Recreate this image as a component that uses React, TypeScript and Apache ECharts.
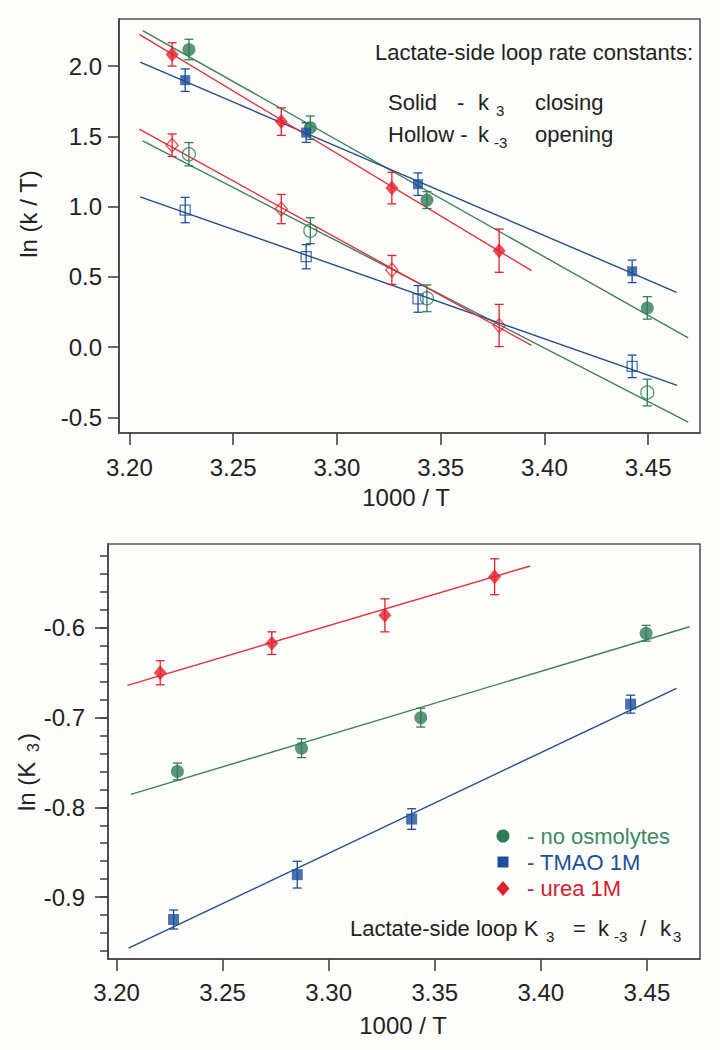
import React, { useEffect, useRef } from "react";
import * as echarts from "echarts";

// ---------- data ----------
const xGreen = [3.2287, 3.2872, 3.3434, 3.4496];
const xBlue = [3.2269, 3.2852, 3.3391, 3.4423];
const xRed = [3.2206, 3.2732, 3.3265, 3.3782];

// top panel: ln(k/T)
const k3Green = [2.118, 1.562, 1.047, 0.28];
const k3GreenErr = [0.073, 0.083, 0.06, 0.08];
const k3Blue = [1.9, 1.527, 1.16, 0.54];
const k3BlueErr = [0.08, 0.07, 0.08, 0.08];
const k3Red = [2.083, 1.605, 1.132, 0.687];
const k3RedErr = [0.083, 0.098, 0.112, 0.154];
const km3Green = [1.373, 0.829, 0.348, -0.322];
const km3GreenErr = [0.083, 0.092, 0.095, 0.095];
const km3Blue = [0.976, 0.644, 0.344, -0.136];
const km3BlueErr = [0.09, 0.086, 0.095, 0.08];
const km3Red = [1.437, 0.983, 0.55, 0.155];
const km3RedErr = [0.08, 0.104, 0.103, 0.15];

// fitted lines (end points)
const fitK3Green = [[3.2064, 2.253], [3.4693, 0.067]];
const fitK3Blue = [[3.2052, 2.028], [3.4637, 0.391]];
const fitK3Red = [[3.2048, 2.225], [3.3938, 0.545]];
const fitKm3Green = [[3.2064, 1.468], [3.4693, -0.532]];
const fitKm3Blue = [[3.2052, 1.07], [3.464, -0.271]];
const fitKm3Red = [[3.2048, 1.551], [3.3938, 0.013]];

// bottom panel: ln(K3)
const K3Green = [-0.76, -0.734, -0.7, -0.606];
const K3GreenErr = [0.0093, 0.0105, 0.0105, 0.0088];
const K3Blue = [-0.925, -0.875, -0.813, -0.685];
const K3BlueErr = [0.0106, 0.0149, 0.0115, 0.01];
const K3Red = [-0.65, -0.617, -0.586, -0.543];
const K3RedErr = [0.0134, 0.0126, 0.0184, 0.02];
const fitK3eqGreen = [[3.2068, -0.7855], [3.4701, -0.5987]];
const fitK3eqBlue = [[3.2057, -0.957], [3.4639, -0.6673]];
const fitK3eqRed = [[3.2052, -0.664], [3.395, -0.531]];

// ticks
const xTicks = [3.2, 3.25, 3.3, 3.35, 3.4, 3.45];
const yTicksTop = [-0.5, 0, 0.5, 1.0, 1.5, 2.0];
const yTicksBottom = [-0.9, -0.8, -0.7, -0.6];
const yMinorBottom = [-0.96, -0.94, -0.92, -0.9, -0.88, -0.86, -0.84, -0.82, -0.8, -0.78, -0.76, -0.74, -0.72, -0.7, -0.68, -0.66, -0.64, -0.62, -0.6, -0.58, -0.56, -0.54, -0.52];

const GREEN = "#2f7d57";
const BLUE = "#1b4f9c";
const RED = "#e3222f";
const GREEN_L = "#3f7f5f";
const BLUE_L = "#234d8a";
const RED_L = "#e0343c";
const FONT = "Liberation Sans";
const TXT = "#222";

const zip = (xs: number[], ys: number[]) => xs.map((x, i) => [x, ys[i]]);
const errData = (xs: number[], ys: number[], es: number[]) =>
  xs.map((x, i) => [x, ys[i] - es[i], ys[i] + es[i]]);

function errSeries(xs: number[], ys: number[], es: number[], color: string, axis: number, yAxis: number) {
  return {
    type: "custom",
    xAxisIndex: axis,
    yAxisIndex: yAxis,
    data: errData(xs, ys, es),
    encode: { x: 0, y: [1, 2] },
    z: 3,
    renderItem: (params: any, api: any) => {
      const x = api.value(0);
      const p1 = api.coord([x, api.value(1)]);
      const p2 = api.coord([x, api.value(2)]);
      const w = 4.5;
      const st = { stroke: color, lineWidth: 1.3 };
      return {
        type: "group",
        children: [
          { type: "line", shape: { x1: p1[0], y1: p1[1], x2: p2[0], y2: p2[1] }, style: st },
          { type: "line", shape: { x1: p1[0] - w, y1: p1[1], x2: p1[0] + w, y2: p1[1] }, style: st },
          { type: "line", shape: { x1: p2[0] - w, y1: p2[1], x2: p2[0] + w, y2: p2[1] }, style: st },
        ],
      };
    },
  };
}

function scatter(xs: number[], ys: number[], color: string, symbol: string, size: any, hollow: boolean, axis: number, yAxis: number) {
  return {
    type: "scatter",
    xAxisIndex: axis,
    yAxisIndex: yAxis,
    data: zip(xs, ys),
    symbol,
    symbolSize: size,
    z: 4,
    itemStyle: hollow
      ? { color: "rgba(255,255,255,0)", borderColor: color, borderWidth: 1.3 }
      : { color },
  };
}

function fitLine(pts: number[][], color: string, axis: number, yAxis: number) {
  return {
    type: "line",
    xAxisIndex: axis,
    yAxisIndex: yAxis,
    data: pts,
    showSymbol: false,
    symbol: "none",
    z: 2,
    lineStyle: { color, width: 1.4 },
  };
}

function txt(text: string, x: number, y: number, size: number, opts: any = {}) {
  return {
    type: "text",
    x,
    y,
    z: 10,
    style: {
      text,
      fill: opts.fill || TXT,
      fontSize: size,
      fontFamily: FONT,
      align: opts.align || "left",
      verticalAlign: "middle",
      textAlign: opts.align || "left",
      textVerticalAlign: "middle",
    },
  };
}

export default function App() {
  const ref = useRef<HTMLDivElement>(null);
  useEffect(() => {
    if (!ref.current) return;
    const chart = echarts.init(ref.current, null, { renderer: "svg" });
    const axisLineStyle = { color: "#444", width: 1.6 };
    const xAxisCommon = (gridIndex: number, min: number, margin: number) => ({
      type: "value",
      gridIndex,
      min,
      max: 3.475,
      position: "bottom",
      axisLine: { show: true, onZero: false, lineStyle: axisLineStyle },
      axisTick: { show: true, inside: false, length: 12, customValues: xTicks, lineStyle: axisLineStyle },
      axisLabel: {
        customValues: xTicks,
        formatter: (v: number) => v.toFixed(2),
        fontSize: 24,
        fontFamily: FONT,
        color: TXT,
        margin,
      },
      splitLine: { show: false },
    });

    const option: any = {
      animation: false,
      backgroundColor: "#fdfdfb",
      grid: [
        { left: 119, top: 19, width: 581, height: 414, show: true, borderColor: "#555", borderWidth: 1.6, backgroundColor: "transparent" },
        { left: 108, top: 544, width: 592, height: 415, show: true, borderColor: "#555", borderWidth: 1.6, backgroundColor: "transparent" },
      ],
      xAxis: [xAxisCommon(0, 3.195, 22), xAxisCommon(1, 3.196, 21)],
      yAxis: [
        {
          type: "value",
          gridIndex: 0,
          position: "left",
          min: -0.61,
          max: 2.335,
          axisLine: { show: true, onZero: false, lineStyle: axisLineStyle },
          axisTick: { show: true, length: 11, customValues: yTicksTop, lineStyle: axisLineStyle },
          axisLabel: {
            customValues: yTicksTop,
            formatter: (v: number) => v.toFixed(1),
            fontSize: 24,
            fontFamily: FONT,
            color: TXT,
            margin: 17,
          },
          splitLine: { show: false },
        },
        {
          type: "value",
          gridIndex: 1,
          position: "left",
          min: -0.969,
          max: -0.5065,
          axisLine: { show: true, onZero: false, lineStyle: axisLineStyle },
          axisTick: { show: true, length: 13, customValues: yTicksBottom, lineStyle: axisLineStyle },
          axisLabel: {
            customValues: yTicksBottom,
            formatter: (v: number) => v.toFixed(1),
            fontSize: 24,
            fontFamily: FONT,
            color: TXT,
            margin: 23,
          },
          splitLine: { show: false },
        },
        {
          type: "value",
          gridIndex: 1,
          position: "left",
          offset: 0,
          min: -0.969,
          max: -0.5065,
          axisLine: { show: false, onZero: false },
          axisTick: { show: true, length: 8, customValues: yMinorBottom, lineStyle: axisLineStyle },
          axisLabel: { show: false },
          splitLine: { show: false },
        },
      ],
      series: [
        // top panel lines
        fitLine(fitK3Green, GREEN_L, 0, 0),
        fitLine(fitK3Blue, BLUE_L, 0, 0),
        fitLine(fitK3Red, RED_L, 0, 0),
        fitLine(fitKm3Green, GREEN_L, 0, 0),
        fitLine(fitKm3Blue, BLUE_L, 0, 0),
        fitLine(fitKm3Red, RED_L, 0, 0),
        // error bars
        errSeries(xGreen, k3Green, k3GreenErr, GREEN, 0, 0),
        errSeries(xBlue, k3Blue, k3BlueErr, BLUE, 0, 0),
        errSeries(xRed, k3Red, k3RedErr, RED, 0, 0),
        errSeries(xGreen, km3Green, km3GreenErr, GREEN, 0, 0),
        errSeries(xBlue, km3Blue, km3BlueErr, BLUE, 0, 0),
        errSeries(xRed, km3Red, km3RedErr, RED, 0, 0),
        // markers
        scatter(xGreen, k3Green, GREEN, "circle", 13, false, 0, 0),
        scatter(xBlue, k3Blue, BLUE, "rect", 10, false, 0, 0),
        scatter(xRed, k3Red, RED, "diamond", [13, 15], false, 0, 0),
        scatter(xGreen, km3Green, GREEN, "circle", 13, true, 0, 0),
        scatter(xBlue, km3Blue, BLUE, "rect", 10, true, 0, 0),
        scatter(xRed, km3Red, RED, "diamond", [12, 14], true, 0, 0),
        // bottom panel
        fitLine(fitK3eqGreen, GREEN_L, 1, 1),
        fitLine(fitK3eqBlue, BLUE_L, 1, 1),
        fitLine(fitK3eqRed, RED_L, 1, 1),
        errSeries(xGreen, K3Green, K3GreenErr, GREEN, 1, 1),
        errSeries(xBlue, K3Blue, K3BlueErr, BLUE, 1, 1),
        errSeries(xRed, K3Red, K3RedErr, RED, 1, 1),
        scatter(xGreen, K3Green, GREEN, "circle", 13, false, 1, 1),
        scatter(xBlue, K3Blue, BLUE, "rect", 11, false, 1, 1),
        scatter(xRed, K3Red, RED, "diamond", [13, 15], false, 1, 1),
      ],
      graphic: [
        // axis titles
        txt("1000 / T", 406, 497, 24, { align: "center" }),
        txt("1000 / T", 403, 1025, 24, { align: "center" }),
        {
          type: "text",
          x: 28,
          y: 214,
          rotation: Math.PI / 2,
          style: {
            text: "ln (k / T)",
            fill: TXT,
            fontSize: 24,
            fontFamily: FONT,
            align: "center",
            verticalAlign: "middle",
            textAlign: "center",
            textVerticalAlign: "middle",
          },
        },
        {
          type: "group",
          x: 26,
          y: 811,
          rotation: Math.PI / 2,
          children: [
            txt("ln (K", 0, 0, 24),
            txt("3", 59, 7, 16),
            txt(")", 70, 0, 24),
          ],
        },
        // top annotation
        txt("Lactate-side loop rate constants:", 693, 52, 22, { align: "right" }),
        txt("Solid", 388, 102, 22),
        txt("-", 457, 102, 22),
        txt("k", 478, 102, 22),
        txt("3", 496, 110, 15),
        txt("closing", 535, 102, 22),
        txt("Hollow -", 388, 134, 22),
        txt("k", 478, 134, 22),
        txt("-3", 494, 142, 15),
        txt("opening", 535, 134, 22),
        // bottom legend
        { type: "circle", shape: { cx: 503, cy: 836, r: 6.5 }, style: { fill: GREEN }, z: 10 },
        { type: "rect", shape: { x: 497.5, y: 856.5, width: 11, height: 11 }, style: { fill: BLUE }, z: 10 },
        { type: "polygon", shape: { points: [[503, 881], [509.5, 888.5], [503, 896], [496.5, 888.5]] }, style: { fill: RED }, z: 10 },
        txt("- no osmolytes", 527, 836, 22, { fill: "#3d8a62" }),
        txt("- TMAO 1M", 527, 862, 22, { fill: "#1d4f96" }),
        txt("- urea 1M", 527, 888, 22, { fill: "#d3202e" }),
        txt("Lactate-side loop K", 350, 928, 22),
        txt("3", 546, 936, 15),
        txt("=", 573, 928, 22),
        txt("k", 598, 928, 22),
        txt("-3", 614, 936, 15),
        txt("/", 640, 928, 22),
        txt("k", 660, 928, 22),
        txt("3", 673, 936, 15),
      ],
    };
    chart.setOption(option);
    return () => chart.dispose();
  }, []);
  return <div ref={ref} style={{ position: "fixed", left: 0, top: 0, width: 720, height: 1050 }} />;
}
